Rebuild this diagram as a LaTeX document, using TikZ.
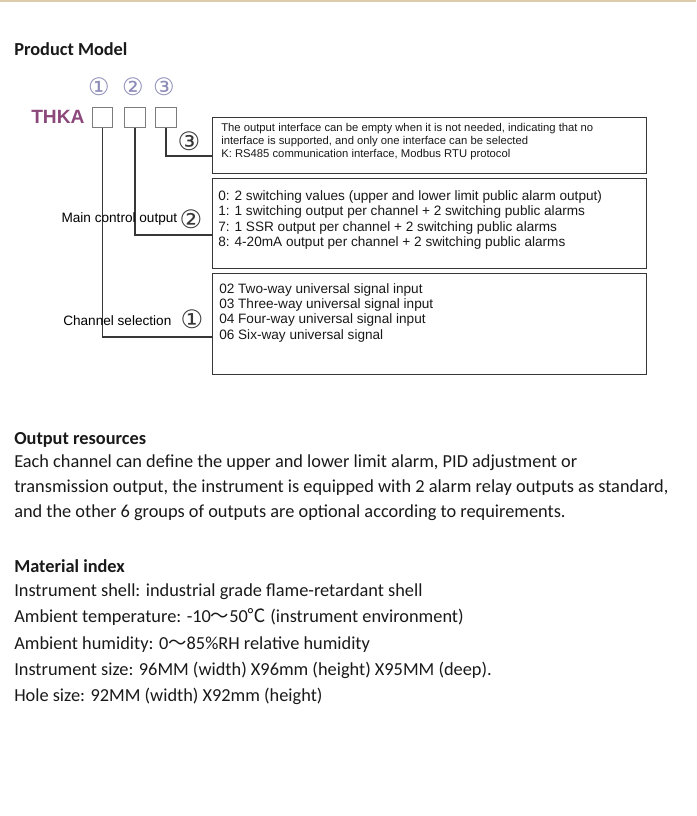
\documentclass[tikz,border=0pt]{standalone}
\usepackage{fontspec}
\setmainfont{Carlito}
\newfontfamily\arialfont{Liberation Sans}
\newfontfamily\dejafont{DejaVu Sans}
\newfontfamily\cjkfont{Noto Sans CJK SC}
\usepackage{tikz}

\definecolor{stripbeige}{RGB}{221,204,172}
\definecolor{modelpurple}{RGB}{140,72,122}
\definecolor{markgrey}{RGB}{140,140,185}
\definecolor{sqgrey}{RGB}{125,125,125}
\definecolor{linegrey}{RGB}{55,55,55}
\definecolor{inkblack}{RGB}{25,25,25}

\tikzset{
  sqbox/.style={draw=sqgrey,line width=0.8pt,minimum width=15.5pt,minimum height=15pt,inner sep=0pt},
  infobox/.style={draw=linegrey,line width=1pt,anchor=north west,minimum width=325.5pt,inner sep=0pt},
  link/.style={draw=linegrey,line width=1pt},
  topmark/.style={inner sep=0pt,text=markgrey,font=\dejafont\fontsize{18}{18}\selectfont},
  sidemark/.style={inner sep=0pt,text=linegrey,font=\dejafont\fontsize{19}{19}\selectfont},
  boxtext/.style={inner sep=0.75pt,anchor=north west,align=left,text=inkblack},
  bodytext/.style={inner sep=0.75pt,anchor=base west,text=inkblack,font=\fontsize{13.75}{16}\selectfont},
}

\begin{document}
\begin{tikzpicture}[x=0.75pt,y=0.75pt,yscale=-1,xscale=1]
\useasboundingbox (0,0) rectangle (696,816);

%Top strip
\fill[stripbeige] (0,0) rectangle (696,2.5);

% Text Node
\draw (13,56) node [bodytext] (prodhead) {\bfseries Product Model};

% Text Node
\draw (30,124) node [anchor=base west][inner sep=0.75pt] (model) {\arialfont\fontsize{14.4}{14.4}\selectfont\bfseries\color{modelpurple}THKA};

%Shape: Square
\node [sqbox] (sq1) at (102.5,117.3) {};
%Shape: Square
\node [sqbox] (sq2) at (135,117.3) {};
%Shape: Square
\node [sqbox] (sq3) at (166,117.3) {};

% Text Node
\node [topmark] (top1) at (99,87) {①};
% Text Node
\node [topmark] (top2) at (133,87) {②};
% Text Node
\node [topmark] (top3) at (164,87) {③};

%Shape: Rectangle
\node [infobox,minimum height=42pt] (boxA) at (212,117) {};
%Shape: Rectangle
\node [infobox,minimum height=67.5pt] (boxB) at (212,178) {};
%Shape: Rectangle
\node [infobox,minimum height=75.75pt] (boxC) at (212,273) {};

\coordinate (inA) at (212,156);
\coordinate (inB) at (212,235);
\coordinate (inC) at (212,337);

%Straight Lines
\draw [link] (sq3.south) |- (inA);
%Straight Lines
\draw [link] (sq2.south) |- (inB);
%Straight Lines
\draw [link] (sq1.south) |- (inC);

% Text Node
\node [sidemark] (side3) at (189,141) {③};
% Text Node
\node [sidemark] (side2) at (191,219) {②};
% Text Node
\node [sidemark] (side1) at (192,319) {①};

% Text Node
\draw (178.5,223) node [anchor=base east][inner sep=0.75pt] (mainlab) {\arialfont\fontsize{10.2}{12}\selectfont Main control output};
% Text Node
\draw (62,325) node [anchor=base west][inner sep=0.75pt] (chanlab) {\arialfont\fontsize{10.2}{12}\selectfont Channel selection};

% Text Node
\draw (220,122) node [boxtext,font=\arialfont\fontsize{8.45}{9.75}\selectfont] (textA) {The output interface can be empty when it is not needed, indicating that no\\interface is supported, and only one interface can be selected\\K: RS485 communication interface, Modbus RTU protocol};
% Text Node
\draw (217,189) node [boxtext,font=\arialfont\fontsize{10.2}{11.6}\selectfont] (textB) {0: 2 switching values (upper and lower limit public alarm output)\\1: 1 switching output per channel + 2 switching public alarms\\7: 1 SSR output per channel + 2 switching public alarms\\8: 4-20mA output per channel + 2 switching public alarms};
% Text Node
\draw (218,282) node [boxtext,font=\arialfont\fontsize{10.2}{11.5}\selectfont] (textC) {02 Two-way universal signal input\\03 Three-way universal signal input\\04 Four-way universal signal input\\06 Six-way universal signal};

% Text Node
\draw (13,444) node [bodytext] (outhead) {\bfseries Output resources};
% Text Node
\draw (13,467) node [bodytext] (out1) {Each channel can define the upper and lower limit alarm, PID adjustment or};
% Text Node
\draw (13,492) node [bodytext] (out2) {transmission output, the instrument is equipped with 2 alarm relay outputs as standard,};
% Text Node
\draw (13,517) node [bodytext] (out3) {and the other 6 groups of outputs are optional according to requirements.};

% Text Node
\draw (13,572.5) node [bodytext] (mathead) {\bfseries Material index};
% Text Node
\draw (13,596.5) node [bodytext] (mat1) {Instrument shell: industrial grade flame-retardant shell};
% Text Node
\draw (13,622.5) node [bodytext] (mat2) {Ambient temperature: -10{\cjkfont ～}50{\cjkfont ℃} (instrument environment)};
% Text Node
\draw (13,649.5) node [bodytext] (mat3) {Ambient humidity: 0{\cjkfont ～}85\%RH relative humidity};
% Text Node
\draw (13,675.5) node [bodytext] (mat4) {Instrument size: 96MM (width) X96mm (height) X95MM (deep).};
% Text Node
\draw (13,701.5) node [bodytext] (mat5) {Hole size: 92MM (width) X92mm (height)};

\end{tikzpicture}
\end{document}
